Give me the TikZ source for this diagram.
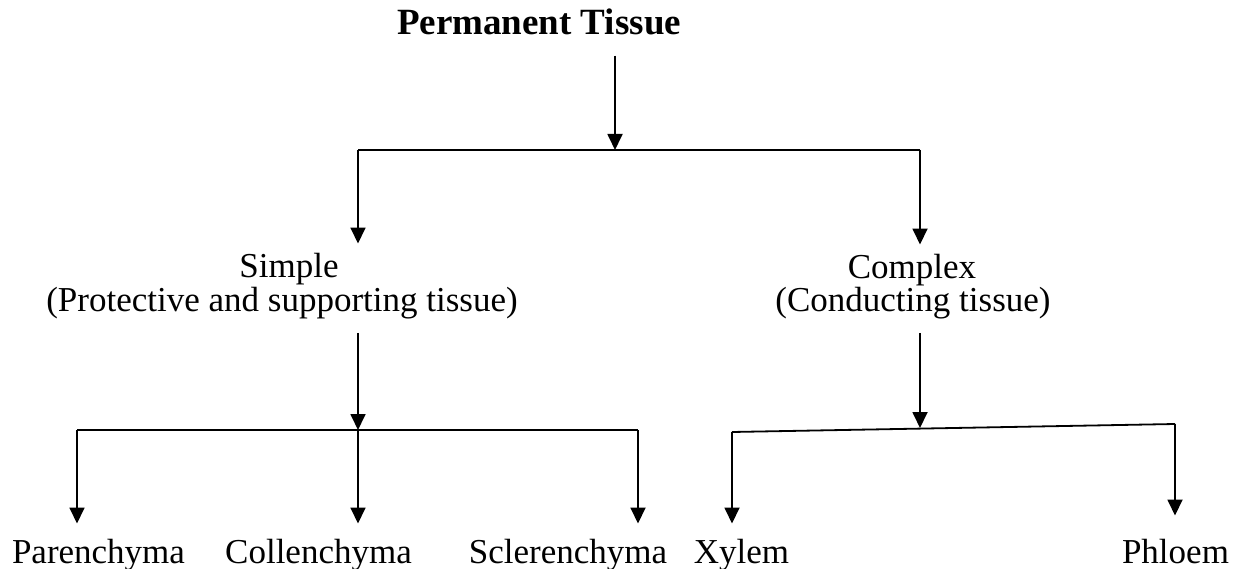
\documentclass[tikz,border=0pt]{standalone}
\usepackage{fontspec}
\setmainfont{Liberation Serif}
\usetikzlibrary{arrows.meta,calc}
\begin{document}
\begin{tikzpicture}[x=1pt,y=-1pt,
  lbl/.style={font=\fontsize{35}{35}\selectfont, inner sep=0pt, anchor=base},
  ttl/.style={font=\bfseries\fontsize{37}{37}\selectfont, inner sep=0pt, anchor=base},
  ln/.style={line width=1.8pt},
  arr/.style={line width=1.8pt, -{Triangle[length=16pt,width=15pt]}}]
\useasboundingbox (0,0) rectangle (1237,569);
% nodes
\node[ttl] (title) at (539,35) {Permanent Tissue};
\node[lbl] (simple) at (289,278) {Simple};
\node[lbl] (simpled) at (282,312) {(Protective and supporting tissue)};
\node[lbl] (complex) at (912,279) {Complex};
\node[lbl] (complexd) at (913,312) {(Conducting tissue)};
\node[lbl] (paren) at (98.5,563) {Parenchyma};
\node[lbl] (collen) at (318.5,563) {Collenchyma};
\node[lbl] (scler) at (568,563) {Sclerenchyma};
\node[lbl] (xylem) at (741.5,563) {Xylem};
\node[lbl] (phloem) at (1175.5,563) {Phloem};
% junctions
\coordinate (j0) at (615,150);
\coordinate (jL) at (358,150);
\coordinate (jR) at (920,150);
\coordinate (sJ) at (358,430);
\coordinate (pJ) at (77,430);
\coordinate (eJ) at (638,430);
\coordinate (cJ) at (920,428);
\coordinate (xJ) at (732,432);
\coordinate (fJ) at (1175,424);
% top level
\draw[arr] ($(title.south -| j0)+(0,20)$) -- (j0);
\draw[ln] (jL) -- (jR);
\draw[arr] (jL) -- ($(jL |- simple.north)+(0,-10)$);
\draw[arr] (jR) -- ($(jR |- complex.north)+(0,-10)$);
% simple branch
\draw[arr] ($(sJ |- simpled.south)+(0,13)$) -- (sJ);
\draw[ln] (pJ) -- (eJ);
\draw[arr] (pJ) -- ($(pJ |- paren.north)+(0,-15)$);
\draw[arr] (sJ) -- ($(sJ |- collen.north)+(0,-15)$);
\draw[arr] (eJ) -- ($(eJ |- scler.north)+(0,-15)$);
% complex branch
\draw[arr] ($(cJ |- complexd.south)+(0,13)$) -- (cJ);
\draw[ln] (xJ) -- (fJ);
\draw[arr] (xJ) -- ($(xJ |- xylem.north)+(0,-15)$);
\draw[arr] (fJ) -- ($(fJ |- phloem.north)+(0,-23)$);
\end{tikzpicture}
\end{document}
